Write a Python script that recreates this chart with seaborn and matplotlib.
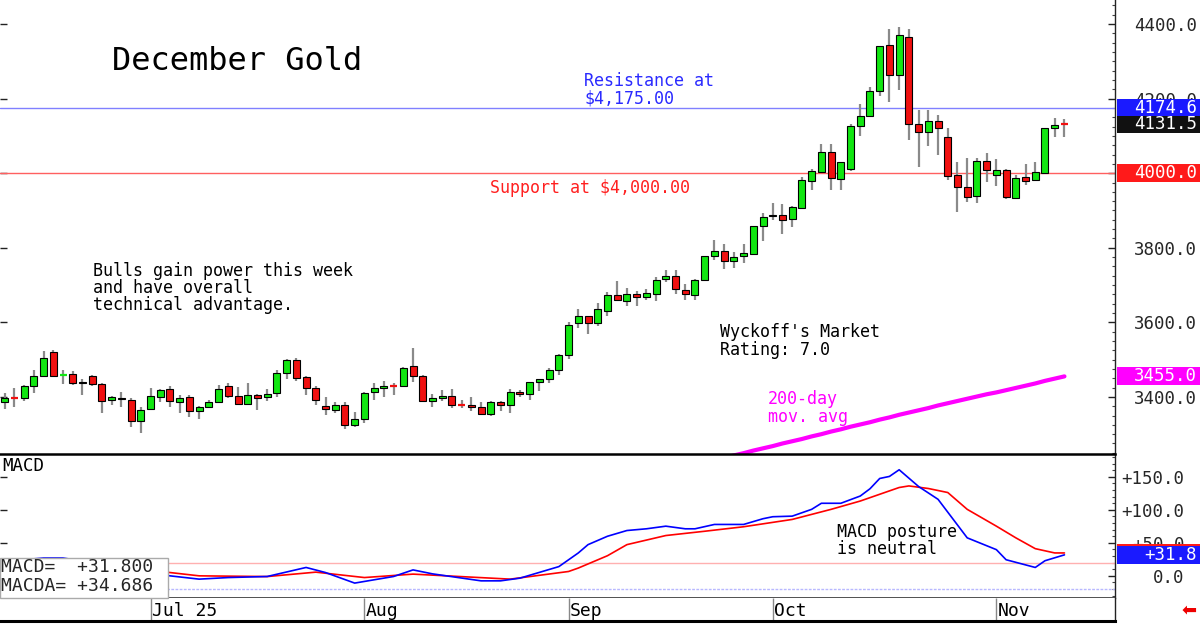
import numpy as np
import pandas as pd
import matplotlib
matplotlib.use('Agg')
import matplotlib.pyplot as plt
import matplotlib.transforms as mtransforms
from matplotlib.patches import Rectangle
from matplotlib.ticker import MultipleLocator
import seaborn as sns

sns.set_style('white')
plt.rcParams['font.family'] = ['DejaVu Sans Mono', 'DejaVu Sans']

# December gold daily bars, Jun 9 - Nov 12 2025 (one entry per trading day)
opens = [3385, 3398, 3396, 3430, 3457, 3520, 3457, 3462, 3440, 3455,
         3435, 3391, 3398, 3392, 3334, 3367, 3400, 3422, 3385, 3399,
         3363, 3373, 3385, 3430, 3402, 3382, 3406, 3400, 3410, 3465,
         3499, 3452, 3424, 3376, 3365, 3379, 3324, 3340, 3413, 3423,
         3431, 3428, 3483, 3456, 3389, 3396, 3403, 3379, 3379, 3374,
         3354, 3387, 3379, 3413, 3407, 3439, 3448, 3473, 3513, 3597,
         3616, 3598, 3631, 3672, 3656, 3676, 3669, 3676, 3716, 3723,
         3688, 3673, 3714, 3777, 3792, 3765, 3777, 3784, 3858, 3884,
         3888, 3876, 3907, 3979, 4003, 4056, 3985, 4012, 4126, 4153,
         4220, 4343, 4263, 4366, 4132, 4110, 4139, 4097, 3994, 3963,
         3938, 4034, 3996, 4008, 3934, 3989, 3981, 4001, 4120, 4133]
highs = [3410, 3423, 3432, 3471, 3522, 3526, 3473, 3470, 3448, 3459,
         3436, 3403, 3414, 3396, 3373, 3423, 3422, 3428, 3405, 3406,
         3376, 3392, 3432, 3438, 3427, 3438, 3408, 3421, 3471, 3502,
         3504, 3455, 3430, 3399, 3385, 3385, 3360, 3414, 3436, 3443,
         3438, 3479, 3531, 3460, 3407, 3418, 3421, 3391, 3400, 3385,
         3389, 3389, 3421, 3418, 3440, 3449, 3477, 3515, 3600, 3636,
         3617, 3651, 3680, 3710, 3692, 3685, 3690, 3721, 3739, 3741,
         3703, 3715, 3779, 3821, 3809, 3788, 3810, 3858, 3894, 3920,
         3918, 3913, 3990, 4012, 4077, 4077, 4031, 4133, 4185, 4231,
         4342, 4388, 4393, 4388, 4169, 4169, 4155, 4120, 4030, 4042,
         4042, 4054, 4039, 4010, 3994, 4024, 4030, 4120, 4149, 4146]
lows = [3367, 3374, 3389, 3410, 3455, 3454, 3434, 3431, 3405, 3430,
        3358, 3378, 3374, 3318, 3304, 3366, 3387, 3374, 3358, 3347,
        3340, 3371, 3384, 3398, 3378, 3378, 3365, 3389, 3401, 3448,
        3443, 3405, 3378, 3351, 3358, 3315, 3320, 3329, 3392, 3400,
        3406, 3427, 3441, 3388, 3373, 3389, 3371, 3371, 3362, 3352,
        3349, 3362, 3357, 3401, 3391, 3416, 3438, 3458, 3501, 3586,
        3570, 3591, 3618, 3658, 3645, 3645, 3660, 3658, 3707, 3676,
        3660, 3660, 3714, 3767, 3743, 3746, 3758, 3783, 3817, 3875,
        3837, 3855, 3905, 3956, 4000, 3954, 3956, 4006, 4099, 4152,
        4208, 4191, 4223, 4088, 4016, 4072, 4050, 3981, 3895, 3924,
        3920, 3976, 3965, 3931, 3931, 3969, 3979, 4000, 4097, 4098]
closes = [3398, 3396, 3429, 3457, 3505, 3455, 3459, 3437, 3436, 3435,
          3389, 3399, 3394, 3336, 3365, 3403, 3418, 3389, 3398, 3361,
          3374, 3385, 3422, 3403, 3382, 3406, 3398, 3409, 3464, 3499,
          3451, 3424, 3391, 3368, 3379, 3324, 3340, 3411, 3424, 3430,
          3429, 3478, 3455, 3389, 3397, 3403, 3379, 3377, 3374, 3354,
          3387, 3379, 3413, 3407, 3439, 3448, 3473, 3511, 3594, 3616,
          3598, 3636, 3672, 3659, 3676, 3669, 3678, 3714, 3723, 3690,
          3676, 3714, 3778, 3792, 3764, 3776, 3786, 3858, 3882, 3889,
          3875, 3909, 3981, 4005, 4056, 3988, 4031, 4126, 4153, 4220,
          4340, 4263, 4370, 4132, 4110, 4139, 4121, 3992, 3963, 3936,
          4034, 4008, 4008, 3936, 3987, 3980, 4003, 4120, 4128, 4131.5]

# 200-day moving average (only the part that shows in the panel)
ma_days = list(range(74, 110))
ma_values = [3236, 3243, 3249, 3256, 3262, 3268, 3275, 3281, 3287, 3294,
             3300, 3307, 3313, 3320, 3326, 3332, 3339, 3345, 3352, 3358,
             3364, 3370, 3377, 3383, 3389, 3395, 3401, 3407, 3412, 3418,
             3424, 3430, 3436, 3443, 3449, 3455]

# MACD (blue) and its average (red)
macd_days = [0, 4, 6, 10, 14, 17, 20, 23, 27, 31, 33, 36, 40, 42, 44, 49,
             51, 53, 57, 59, 60, 62, 64, 66, 68, 70, 71, 73, 76, 78, 79, 81,
             83, 84, 86, 88, 89, 90, 91, 92, 94, 96, 99, 102, 103, 106, 107, 109]
macd_values = [22, 27, 27, 18, 6, 0, -5, -2.6, -1, 12.7, 5, -11, -1, 9, 3, -7.6,
               -7.6, -3.5, 14, 34.7, 47.3, 60, 68.7, 71.3, 75.3, 71.3, 71.3, 77.9,
               77.9, 86.6, 89.6, 90.5, 100.8, 110, 110, 121, 132, 147.6, 150.7,
               160.8, 135.4, 116, 57.6, 39.7, 24.4, 12.7, 22.9, 31.8]
signal_days = [0, 6, 12, 17, 20, 27, 32, 37, 42, 52, 58, 59, 62, 64, 68, 72,
               76, 81, 85, 88, 92, 93, 95, 97, 99, 102, 104, 106, 108, 109]
signal_values = [14, 18, 12, 5, 0, -1.1, 5.6, -2.6, 2.6, -5, 6.6, 11.8, 30.5,
                 47.3, 61.1, 67.6, 74.4, 85.5, 100.8, 113.4, 133.9, 136.3,
                 132.4, 126.3, 100.8, 75.3, 57.6, 41.2, 34.7, 34.686]

date_ticks = [15, 37, 58, 79, 102]
date_labels = ['Jul 25', 'Aug', 'Sep', 'Oct', 'Nov']
price_ticks = [3400, 3600, 3800, 4000, 4200, 4400]
macd_ticks = [0, 50, 100, 150]

resistance = 4174.6
support = 4000.0
last_price = 4131.5
ma_last = 3455.0
macd_last = 31.8
macda_last = 34.686

W, H = 1200, 626
GREEN = '#11e611'
RED = '#f01010'

bars = pd.DataFrame({'day': np.arange(len(opens)), 'open': opens, 'high': highs,
                     'low': lows, 'close': closes})
bars['up'] = bars['close'] >= bars['open']
bars['body'] = (bars['close'] - bars['open']).abs()
bars['base'] = bars[['open', 'close']].min(axis=1)
bars['color'] = np.where(bars['up'], GREEN, RED)
full = bars[bars['body'] >= 3]
doji = bars[bars['body'] < 3]

ma = pd.DataFrame({'day': ma_days, 'ma': ma_values})
macd = pd.DataFrame({'day': macd_days, 'macd': macd_values})
signal = pd.DataFrame({'day': signal_days, 'signal': signal_values})

fig = plt.figure(figsize=(W / 100, H / 100), dpi=100)
fig.patch.set_facecolor('white')


def box(l, t, r, b):
    return [l / W, 1 - b / H, (r - l) / W, (b - t) / H]


ax = fig.add_axes(box(0, 0, 1115, 454))
axm = fig.add_axes(box(0, 454, 1115, 598))
axd = fig.add_axes(box(0, 598, 1115, 621))

xlim = (-0.48, 114.2)
for a in (ax, axm, axd):
    a.set_xlim(*xlim)
    a.set_facecolor('white')
    for s in a.spines.values():
        s.set_visible(False)
    a.spines['right'].set_visible(True)
    a.spines['right'].set_color('#222222')
    a.spines['right'].set_linewidth(1)
    a.set_xticks([])

# price panel
ax.set_ylim(3246.8, 4464.5)
ax.axhline(resistance, color='#8080ff', lw=1, zorder=1)
ax.axhline(support, color='#ff6060', lw=1, zorder=1)
ax.vlines(bars['day'], bars['low'], bars['high'], color='#8a8a8a', lw=1.6, zorder=2)
ax.bar(full['day'], full['body'], bottom=full['base'], width=0.72,
       color=full['color'], edgecolor='black', linewidth=0.8, zorder=3)
ax.hlines(doji['close'], doji['day'] - 0.36, doji['day'] + 0.36,
          colors=doji['color'], lw=1.6, zorder=3)
sns.lineplot(data=ma, x='day', y='ma', ax=ax, color='#ff00ff', lw=3, zorder=4)
ax.set_xlabel('')
ax.set_ylabel('')

ax.yaxis.tick_right()
ax.set_yticks(price_ticks)
ax.set_yticklabels([f'{t:.1f}' for t in price_ticks])
ax.yaxis.set_minor_locator(MultipleLocator(25))
ax.tick_params(axis='y', which='major', direction='in', length=5, width=1,
               color='#222222', pad=59, labelsize=12.5, left=True, right=True)
ax.tick_params(axis='y', which='minor', direction='in', length=2.5, width=0.8,
               color='#444444', right=True, left=False)
for lbl in ax.get_yticklabels():
    lbl.set_ha('right')

# MACD panel
axm.set_ylim(-33.6, 184.7)
axm.spines['top'].set_visible(True)
axm.spines['top'].set_color('black')
axm.spines['top'].set_linewidth(1.8)
axm.spines['bottom'].set_visible(True)
axm.spines['bottom'].set_color('#333333')
axm.spines['bottom'].set_linewidth(1.2)
axm.axhline(20, color='#ffb0b0', lw=1, zorder=1)
axm.axhline(-20, color='#b8b8ff', lw=1, ls=(0, (2, 1)), zorder=1)
sns.lineplot(data=signal, x='day', y='signal', ax=axm, color='#ff0000', lw=1.2, zorder=3)
sns.lineplot(data=macd, x='day', y='macd', ax=axm, color='#0000ff', lw=1.2, zorder=3)
axm.set_xlabel('')
axm.set_ylabel('')
axm.yaxis.tick_right()
axm.set_yticks(macd_ticks)
axm.set_yticklabels(['0.0' if t == 0 else f'+{t:.1f}' for t in macd_ticks])
axm.yaxis.set_minor_locator(MultipleLocator(10))
axm.tick_params(axis='y', which='major', direction='in', length=5, width=1,
                color='#222222', pad=50, labelsize=12.5, left=True, right=True)
axm.tick_params(axis='y', which='minor', direction='in', length=2.5, width=0.8,
                color='#444444', right=True, left=False)
for lbl in axm.get_yticklabels():
    lbl.set_ha('right')

# date strip
axd.set_ylim(0, 1)
axd.set_yticks([])
axd.spines['bottom'].set_visible(True)
axd.spines['bottom'].set_color('black')
axd.spines['bottom'].set_linewidth(2.2)
axd.vlines(date_ticks, 0, 1, color='#888888', lw=1)
for d, lab in zip(date_ticks, date_labels):
    axd.text(d + 0.15, 0.45, lab, fontsize=13, va='center', ha='left', color='black')


# value tags on the right edge
def tag(axis, value, text, color, half):
    trans = mtransforms.blended_transform_factory(axis.transAxes, axis.transData)
    axis.add_patch(Rectangle((1.0015, value - half), 0.0745, 2 * half, transform=trans,
                             facecolor=color, edgecolor='none', clip_on=False, zorder=10))
    axis.text(1.0735, value, text, transform=trans, ha='right', va='center',
              color='white', fontsize=12.5, zorder=11, clip_on=False)


tag(ax, resistance, f'{resistance:.1f}', '#1a1aff', 24)
tag(ax, last_price, f'{last_price:.1f}', '#111111', 23)
tag(ax, support, f'{support:.1f}', '#ff1a1a', 24)
tag(ax, ma_last, f'{ma_last:.1f}', '#ff00ff', 24)
tag(axm, macda_last, '', '#ff1a1a', 13.7)
tag(axm, macd_last, f'+{macd_last:.1f}', '#1a1aff', 13.7)


def label(x, y, s, size=12, color='black', **kw):
    fig.text(x / W, 1 - y / H, s, fontsize=size, color=color, ha='left', va='center', **kw)


label(112, 62, 'December Gold', size=23)
label(584, 89.5, 'Resistance at\n$4,175.00', color='#2a2aff', linespacing=1.0)
label(490, 188, 'Support at $4,000.00', color='#ff2020')
label(93, 288, 'Bulls gain power this week\nand have overall\ntechnical advantage.',
      linespacing=0.95)
label(720, 341, "Wyckoff's Market\nRating: 7.0", linespacing=0.95)
label(768, 408, '200-day\nmov. avg', color='#ff00ff', linespacing=0.95)
label(2, 466, 'MACD', size=12.5)
label(837, 540.5, 'MACD posture\nis neutral', linespacing=0.95)

# MACD readout box
fig.add_artist(Rectangle((0, 1 - 598 / H), 168 / W, 40 / H, transform=fig.transFigure,
                         facecolor='white', edgecolor='#aaaaaa', lw=1, zorder=5))
fig.text(1 / W, 1 - 567 / H, f'MACD=  +{macd_last:.3f}', fontsize=13, va='center',
         ha='left', zorder=6)
fig.text(1 / W, 1 - 586 / H, f'MACDA= +{macda_last:.3f}', fontsize=13, va='center',
         ha='left', zorder=6)

fig.text(1182 / W, 1 - 610 / H, '\u2b05', fontsize=13, color='#ee0000', va='center',
         ha='left', family=['DejaVu Sans'])

fig.savefig('out.png', dpi=100, facecolor='white')
